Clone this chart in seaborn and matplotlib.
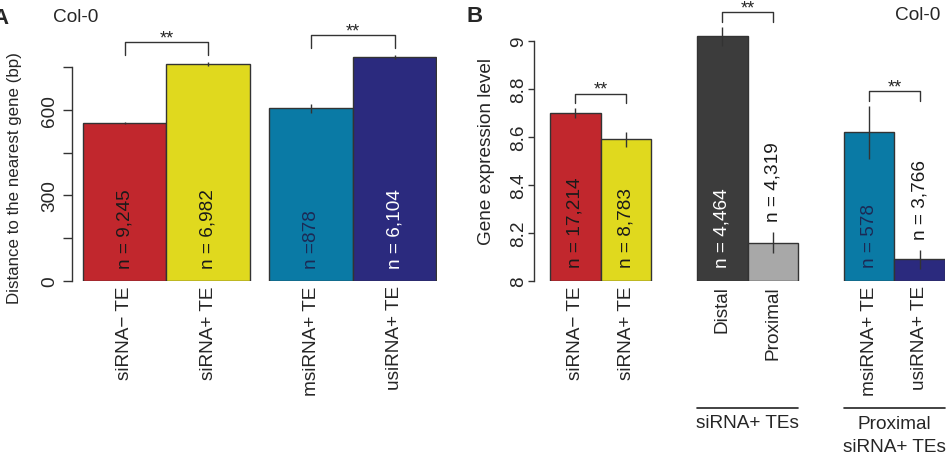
import numpy as np
import pandas as pd
import seaborn as sns
import matplotlib.pyplot as plt

# Panel A: distance to the nearest gene
a_labels = ["siRNA\u2212 TE", "siRNA+ TE", "msiRNA+ TE", "usiRNA+ TE"]
a_groups = [0, 0, 1, 1]
a_values = [553, 760, 605, 784]
a_err = [4, 6, 16, 7]
a_n = ["n = 9,245", "n = 6,982", "n =878", "n = 6,104"]
a_colors = ["#C1272D", "#E0D91E", "#0A7AA5", "#2B2A7E"]
a_pairs = [(0, 1), (2, 3)]

# Panel B: gene expression level
b_labels = ["siRNA\u2212 TE", "siRNA+ TE", "Distal", "Proximal", "msiRNA+ TE", "usiRNA+ TE"]
b_groups = [0, 0, 1, 1, 2, 2]
b_values = [8.70, 8.59, 9.02, 8.16, 8.62, 8.09]
b_err = [0.02, 0.03, 0.04, 0.045, 0.11, 0.04]
b_n = ["n = 17,214", "n = 8,783", "n = 4,464", "n = 4,319", "n = 578", "n = 3,766"]
b_colors = ["#C1272D", "#E0D91E", "#3C3C3C", "#A8A8A8", "#0A7AA5", "#2B2A7E"]
b_pairs = [(0, 1), (2, 3), (4, 5)]
b_group_titles = {1: "siRNA+ TEs", 2: "Proximal\nsiRNA+ TEs"}

sns.set_style("ticks")
plt.rcParams['font.family'] = ['Liberation Sans', 'DejaVu Sans']
plt.rcParams['font.size'] = 13.7

text_col = {"#2B2A7E": "white", "#3C3C3C": "white", "#0A7AA5": "#1c2a55"}
edge = "#333333"

fig = plt.figure(figsize=(9.49, 4.56), dpi=100)
W, H = 949, 456


def draw_panel(ax, labels, groups, values, err, ns, colors, pairs, gap,
               base, inside_y, above_off, leg_off, br_h):
    pos = np.arange(len(values)) + np.array(groups) * gap
    df = pd.DataFrame({"pos": pos, "value": values, "label": labels})
    sns.barplot(data=df, x="pos", y="value", hue="label", palette=colors,
                native_scale=True, dodge=False, legend=False, width=1,
                saturation=1, edgecolor=edge, linewidth=1, ax=ax)
    # bars start at the axis base, not at zero
    for p in ax.patches:
        p.set_y(base)
        p.set_height(p.get_height() - base)
    ax.errorbar(pos, values, yerr=err, fmt="none", ecolor=edge, elinewidth=1,
                capsize=0, zorder=5)
    tops = np.array(values) + np.array(err)
    for i, (x, v) in enumerate(zip(pos, values)):
        c = colors[i]
        if v - base > 0.25 * (tops.max() - base):
            ax.text(x, inside_y, ns[i], rotation=90, ha="center", va="bottom",
                    color=text_col.get(c, "#1a1a1a"), zorder=6)
        else:
            ax.text(x, tops[i] + above_off, ns[i], rotation=90, ha="center",
                    va="bottom", color="#1a1a1a", zorder=6)
    for i, j in pairs:
        y0 = max(tops[i], tops[j]) + leg_off
        y1 = y0 + br_h
        ax.plot([pos[i], pos[i], pos[j], pos[j]], [y0, y1, y1, y0], color=edge,
                lw=1, clip_on=False)
        ax.text((pos[i] + pos[j]) / 2, y1, "**", ha="center", va="baseline",
                fontsize=13, clip_on=False)
    ax.set_xticks(pos)
    ax.set_xticklabels(labels, rotation=90, va="top", ha="center")
    ax.tick_params(axis="x", length=0, pad=3)
    for s in ["top", "right", "bottom"]:
        ax.spines[s].set_visible(False)
    ax.spines["left"].set_color(edge)
    ax.spines["left"].set_linewidth(1)
    ax.set_xlabel("")
    return pos


# Panel A
axA = fig.add_axes([72 / W, 174 / H, 365 / W, 257 / H])
axA.set_xlim(-0.631, 3.74)
axA.set_ylim(0, 900)
posA = draw_panel(axA, a_labels, a_groups, a_values, a_err, a_n, a_colors,
                  a_pairs, 0.233, 0, 45, 20, 25, 45)
axA.set_yticks(np.arange(0, 751, 150))
axA.set_yticklabels(["0", "", "300", "", "600", ""])
axA.tick_params(axis="y", direction="out", length=6.2, width=1, color=edge,
                labelrotation=90, pad=4)
axA.spines["left"].set_bounds(0, 750)
axA.set_ylabel("Distance to the nearest gene (bp)", fontsize=12.2)
axA.yaxis.set_label_coords(-0.137, 0.405)

# Panel B
axB = fig.add_axes([534 / W, 174 / H, 411 / W, 288 / H])
axB.set_xlim(-0.817, 7.3)
axB.set_ylim(8, 9.2)
posB = draw_panel(axB, b_labels, b_groups, b_values, b_err, b_n, b_colors,
                  b_pairs, 0.9, 8, 8.058, 0.045, 0.02, 0.04)
axB.set_yticks([8, 8.2, 8.4, 8.6, 8.8, 9])
axB.set_yticklabels(["8", "8.2", "8.4", "8.6", "8.8", "9"])
axB.tick_params(axis="y", direction="out", length=4.3, width=1, color=edge,
                labelrotation=90, pad=0.5)
axB.spines["left"].set_bounds(8, 9)
axB.set_ylabel("Gene expression level")
axB.yaxis.set_label_coords(-0.095, 0.453)

for ax in (axA, axB):
    for lab in ax.get_yticklabels():
        lab.set_va("center")

# group titles under panel B
tr = axB.get_xaxis_transform()
for g, title in b_group_titles.items():
    idx = [k for k, gg in enumerate(b_groups) if gg == g]
    x0, x1 = posB[idx[0]] - 0.5, posB[idx[-1]] + 0.5
    axB.plot([x0, x1], [-0.441, -0.441], color="#222222", lw=1.2,
             transform=tr, clip_on=False)
    ytxt = -0.493 if "\n" not in title else -0.535
    axB.text((x0 + x1) / 2, ytxt, title, transform=tr, ha="center",
             va="center", linespacing=1.4)

# panel letters and strain labels
fig.text(-8 / W, 1 - 18 / H, "A", fontsize=16, fontweight="bold", va="center")
fig.text(466 / W, 1 - 17 / H, "B", fontsize=16, fontweight="bold", va="center")
fig.text(53 / W, 1 - 18 / H, "Col-0", va="center", ha="left")
fig.text(940 / W, 1 - 16 / H, "Col-0", va="center", ha="right")

plt.savefig("out.png", dpi=100)
